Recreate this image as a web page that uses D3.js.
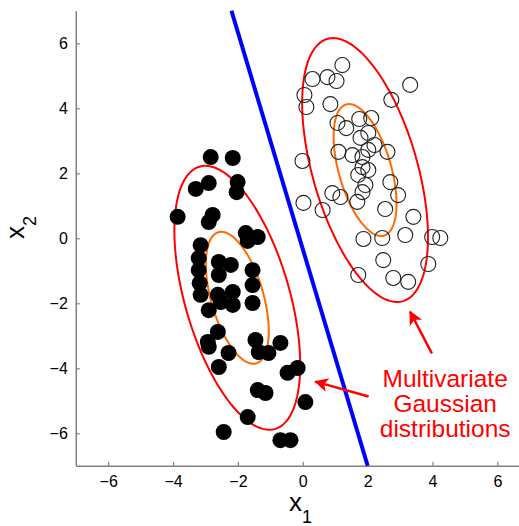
<!DOCTYPE html>
<html>
<head>
<meta charset="utf-8">
<script src="https://cdn.jsdelivr.net/npm/d3@7"></script>
<style>
  body { margin: 0; background: #fff; }
  svg { display: block; font-family: "Liberation Sans", Arial, Helvetica, sans-serif; }
</style>
</head>
<body>
<svg id="chart" width="519" height="526"></svg>
<script>
// class 1 (filled dots)
const filledX = [-2.84, -2.16, -3.30, -2.90, -2.01, -2.04, -3.86, -2.78, -2.90, -1.76,
  -1.39, -1.70, -3.15, -3.21, -2.59, -2.22, -3.21, -2.59, -1.55, -1.55,
  -3.15, -2.62, -2.16, -2.16, -2.53, -2.90, -1.55, -2.62, -2.93, -1.46,
  -0.69, -2.90, -2.29, -2.59, -1.36, -1.06, -0.47, -0.16, -1.39, -1.15,
  0.08, -1.70, -2.44, -0.69, -0.38, -3.18];
const filledY = [2.50, 2.47, 1.52, 1.70, 1.73, 1.42, 0.66, 0.72, 0.50, 0.16,
  0.04, -0.08, -0.21, -0.61, -0.73, -0.82, -0.98, -1.13, -0.98, -1.44,
  -1.74, -1.74, -1.65, -2.05, -1.96, -2.21, -1.99, -2.88, -3.19, -3.13,
  -3.22, -3.34, -3.53, -3.96, -3.50, -3.53, -4.14, -3.99, -4.67, -4.76,
  -5.04, -5.50, -5.96, -6.21, -6.21, -1.38];

// class 2 (open circles)
const openX = [1.22, 0.30, 0.76, 1.04, 0.05, 0.11, 3.31, 2.73, 0.85, 1.07,
  1.34, 1.74, 2.11, 1.78, 2.02, 2.21, 2.02, 1.10, 1.53, 2.61,
  -0.01, 1.84, 1.84, 2.02, 1.71, 1.93, 1.84, 0.91, 1.16, 1.68,
  2.70, 2.94, 0.02, 0.61, 2.54, 3.41, 1.87, 2.45, 3.16, 3.99,
  4.24, 2.48, 3.87, 1.71, 2.79, 3.25];
const openY = [5.33, 4.90, 4.96, 4.84, 4.41, 4.04, 4.72, 4.26, 4.13, 3.55,
  3.39, 3.67, 3.70, 3.09, 3.24, 2.87, 2.72, 2.66, 2.56, 2.66,
  2.38, 2.50, 2.19, 2.10, 1.95, 1.64, 1.42, 1.39, 1.27, 1.12,
  1.73, 1.33, 1.09, 0.87, 0.90, 0.66, -0.02, 0.01, 0.10, 0.04,
  0.01, -0.67, -0.79, -1.13, -1.22, -1.34];

// gaussian fits: means and shared covariance (sx, sy, cov)
const meanX = [-2.02, 1.92];
const meanY = [-1.83, 2.10];
const sigma = [0.97, 2.03, -1.0];
const contourLevels = [2, 1];   // 2 sigma red, 1 sigma orange

// decision boundary end points
const boundaryX = [-2.2, 2.0];
const boundaryY = [7, -7];

const ticks = [-6, -4, -2, 0, 2, 4, 6];

const noteLines = ["Multivariate", "Gaussian", "distributions"];
const noteX = 4.39;
const noteY = [-4.58, -5.34, -6.11];
const arrowFrom = [[3.98, -3.54], [2.03, -4.87]];
const arrowTo = [[3.31, -2.26], [0.39, -4.41]];

const svg = d3.select('#chart');

const x = d3.scaleLinear().domain([-7, 7]).range([75.8, 529.8]);
const y = d3.scaleLinear().domain([-7, 7]).range([465.8, 10.8]);

// axes
const xAxis = svg.append('g')
  .attr('transform', `translate(0,${y(-7)})`)
  .call(d3.axisBottom(x).tickValues(ticks).tickSizeInner(-4).tickSizeOuter(0).tickPadding(10));
const yAxis = svg.append('g')
  .attr('transform', `translate(${x(-7)},0)`)
  .call(d3.axisLeft(y).tickValues(ticks).tickSizeInner(-4).tickSizeOuter(0).tickPadding(8));

[xAxis, yAxis].forEach(function(a) {
  a.select('.domain').attr('stroke', '#808080').attr('stroke-width', 1.5);
  a.selectAll('.tick line').attr('stroke', '#808080').attr('stroke-width', 1.2);
  a.selectAll('.tick text').attr('fill', '#000').style('font-size', '16px')
    .style('font-family', '"Liberation Sans", Arial, sans-serif');
});

// axis labels
const xl = svg.append('text').attr('x', 289).attr('y', 511)
  .style('font-size', '26px');
xl.append('tspan').text('x');
xl.append('tspan').attr('dy', 12).style('font-size', '18px').text('1');

const yl = svg.append('text').attr('transform', 'translate(24,239) rotate(-90)')
  .style('font-size', '26px');
yl.append('tspan').text('x');
yl.append('tspan').attr('dy', 12).style('font-size', '18px').text('2');

// ellipses
const L11 = sigma[0];
const L21 = sigma[2] / sigma[0];
const L22 = Math.sqrt(sigma[1] * sigma[1] - L21 * L21);
const angles = d3.range(0, 2 * Math.PI + 0.001, Math.PI / 90);
const ellipse = d3.line().x(d => x(d[0])).y(d => y(d[1]));

meanX.forEach(function(mx, i) {
  contourLevels.forEach(function(k, j) {
    const pts = angles.map(t => [
      mx + k * L11 * Math.cos(t),
      meanY[i] + k * (L21 * Math.cos(t) + L22 * Math.sin(t))
    ]);
    svg.append('path')
      .attr('d', ellipse(pts))
      .attr('fill', 'none')
      .attr('stroke', j == 0 ? '#ff0000' : '#ff6a00')
      .attr('stroke-width', 2);
  });
});

// boundary
svg.append('line')
  .attr('x1', x(boundaryX[0])).attr('y1', y(boundaryY[0]))
  .attr('x2', x(boundaryX[1])).attr('y2', y(boundaryY[1]))
  .attr('stroke', '#0000ff').attr('stroke-width', 4);

// points
svg.append('g').selectAll('circle')
  .data(filledX)
  .join('circle')
  .attr('cx', d => x(d))
  .attr('cy', (d, i) => y(filledY[i]))
  .attr('r', 8)
  .attr('fill', '#000');

svg.append('g').selectAll('circle')
  .data(openX)
  .join('circle')
  .attr('cx', d => x(d))
  .attr('cy', (d, i) => y(openY[i]))
  .attr('r', 7.5)
  .attr('fill', 'none')
  .attr('stroke', '#222')
  .attr('stroke-width', 1.1);

// annotation
svg.append('defs').append('marker')
  .attr('id', 'head')
  .attr('viewBox', '0 0 10 10')
  .attr('refX', 9).attr('refY', 5)
  .attr('markerUnits', 'userSpaceOnUse')
  .attr('markerWidth', 16).attr('markerHeight', 14)
  .attr('orient', 'auto')
  .append('path')
  .attr('d', 'M0,0 L10,5 L0,10 L2.5,5 Z')
  .attr('fill', '#ff0000');

arrowFrom.forEach(function(f, i) {
  svg.append('line')
    .attr('x1', x(f[0])).attr('y1', y(f[1]))
    .attr('x2', x(arrowTo[i][0])).attr('y2', y(arrowTo[i][1]))
    .attr('stroke', '#ff0000').attr('stroke-width', 2.5)
    .attr('marker-end', 'url(#head)');
});

svg.append('g').selectAll('text')
  .data(noteLines)
  .join('text')
  .attr('x', x(noteX))
  .attr('y', (d, i) => y(noteY[i]))
  .attr('text-anchor', 'middle')
  .attr('fill', '#ff0000')
  .style('font-size', '24.5px')
  .text(d => d);
</script>
</body>
</html>
